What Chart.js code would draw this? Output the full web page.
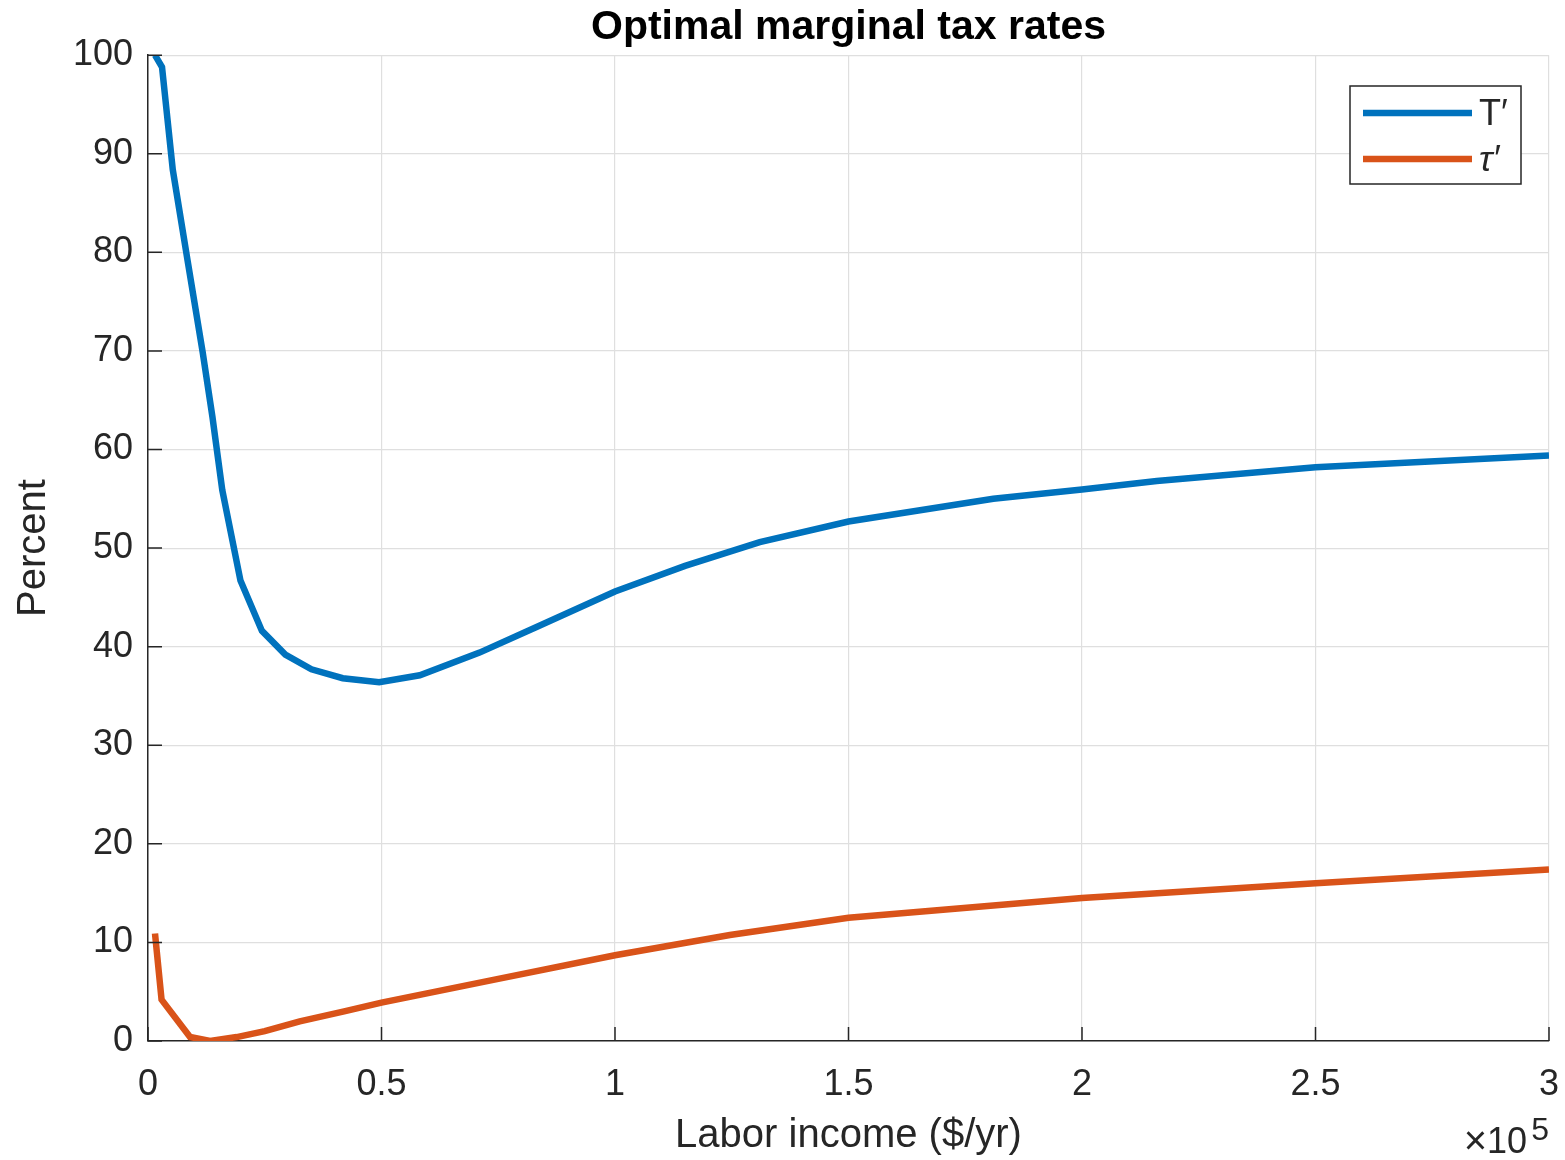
<!DOCTYPE html>
<html>
<head>
<meta charset="utf-8">
<script src="https://cdn.jsdelivr.net/npm/chart.js@4/dist/chart.umd.min.js"></script>
<style>
  html, body { margin:0; padding:0; background:#fff; overflow:hidden; }
  #wrap { width:1565px; height:1160px; position:relative; }
  canvas { display:block; }
</style>
</head>
<body>
<div id="wrap"><canvas id="chart"></canvas></div>
<script>
// ---------- DATA ----------
const incomeT = [1500, 3000, 5300, 8500, 11700, 13800, 15900, 19800, 24400, 29400, 35000, 41700, 49500,
                 58200, 71000, 83200, 100000, 115000, 131000, 150000, 181000, 200000, 216000, 250000, 300000];
const rateT   = [100, 98.8, 88.4, 79.1, 69.9, 63.3, 55.9, 46.7, 41.6, 39.2, 37.7, 36.8, 36.4,
                 37.1, 39.4, 42.0, 45.6, 48.2, 50.6, 52.7, 55.0, 55.95, 56.8, 58.2, 59.4];

const incomeTau = [1500, 2900, 9000, 13300, 19000, 25000, 32500, 42000, 50000, 75000, 100000, 124600, 150000, 200000, 250000, 300000];
const rateTau   = [10.9, 4.2, 0.4, 0.0, 0.4, 1.0, 2.0, 3.0, 3.9, 6.3, 8.7, 10.75, 12.5, 14.5, 16.0, 17.4];

const xTicks = [0, 50000, 100000, 150000, 200000, 250000, 300000];
const yTicks = [0, 10, 20, 30, 40, 50, 60, 70, 80, 90, 100];

const seriesNames = ["T\u2032", "\u03c4\u2032"];
const seriesColors = ["#0072BD", "#D95319"];

// ---------- HELPERS ----------
function pairs(xs, ys){
    return xs.map((x,i)=>({x:x, y:ys[i]}));
}

const FONT = "'Liberation Sans', Arial, Helvetica, sans-serif";
const AXIS = "#262626";

// ---------- EXTRAS (inward ticks, legend, x10^5) ----------
const extras = {
    id:"extras",
    afterDraw(chart){
        const ctx = chart.ctx;
        const xs = chart.scales.x, ys = chart.scales.y;
        const a = chart.chartArea;
        ctx.save();

        // inward ticks
        ctx.strokeStyle = AXIS;
        ctx.lineWidth = 1.5;
        ctx.beginPath();
        xTicks.forEach(v=>{
            const px = xs.getPixelForValue(v);
            ctx.moveTo(px, a.bottom);
            ctx.lineTo(px, a.bottom-14);
        });
        yTicks.forEach(v=>{
            const py = ys.getPixelForValue(v);
            ctx.moveTo(a.left, py);
            ctx.lineTo(a.left+14, py);
        });
        ctx.stroke();

        // x10^5 multiplier
        ctx.fillStyle = AXIS;
        ctx.textBaseline = "alphabetic";
        ctx.textAlign = "right";
        ctx.font = "32px " + FONT;
        ctx.fillText("5", a.right, 1140);
        ctx.font = "36px " + FONT;
        ctx.fillText("10", a.right-22, 1153);
        ctx.font = "40px " + FONT;
        ctx.fillText("\u00d7", a.right-62, 1154);

        // legend
        const lx = 1350, ly = 86, lw = 171, lh = 98;
        ctx.fillStyle = "#fff";
        ctx.fillRect(lx, ly, lw, lh);
        ctx.strokeStyle = AXIS;
        ctx.lineWidth = 1.5;
        ctx.strokeRect(lx, ly, lw, lh);
        const rows = [113, 159];
        rows.forEach((ry,i)=>{
            ctx.strokeStyle = seriesColors[i];
            ctx.lineWidth = 6.5;
            ctx.beginPath();
            ctx.moveTo(1363, ry);
            ctx.lineTo(1472, ry);
            ctx.stroke();
            ctx.fillStyle = AXIS;
            ctx.textAlign = "left";
            ctx.textBaseline = "middle";
            ctx.font = (i===1 ? "italic " : "") + "36px " + FONT;
            ctx.fillText(seriesNames[i], 1479, ry+2);
        });

        ctx.restore();
    }
};

// ---------- CHART ----------
new Chart(document.getElementById("chart"), {
    type:"line",
    data:{
        datasets:[
            {
                label:seriesNames[0],
                data:pairs(incomeT, rateT),
                borderColor:seriesColors[0],
                borderWidth:6.5,
                pointRadius:0,
                tension:0,
                fill:false
            },
            {
                label:seriesNames[1],
                data:pairs(incomeTau, rateTau),
                borderColor:seriesColors[1],
                borderWidth:6.5,
                pointRadius:0,
                tension:0,
                fill:false
            }
        ]
    },
    options:{
        responsive:true,
        maintainAspectRatio:false,
        animation:false,
        layout:{ padding:{ top:0, right:16, left:0, bottom:0 } },
        plugins:{
            legend:{ display:false },
            tooltip:{ enabled:false },
            title:{
                display:true,
                fullSize:false,
                text:"Optimal marginal tax rates",
                color:"#000",
                font:{ family:FONT, size:41, weight:"bold", lineHeight:1.2 },
                padding:{ top:3, bottom:3 }
            }
        },
        scales:{
            x:{
                type:"linear",
                min:0, max:300000,
                afterBuildTicks(s){ s.ticks = xTicks.map(v=>({value:v})); },
                afterFit(s){ s.height = 119; s.paddingRight = 0; s.paddingLeft = 0; },
                grid:{ color:"#dfdfdf", lineWidth:1.2, drawTicks:false },
                border:{ color:AXIS, width:1.5 },
                ticks:{
                    color:AXIS,
                    padding:22,
                    maxRotation:0,
                    font:{ family:FONT, size:36 },
                    callback:v=>String(v/100000)
                },
                title:{
                    display:true,
                    text:"Labor income ($/yr)",
                    color:AXIS,
                    font:{ family:FONT, size:40 },
                    padding:{ top:0, bottom:0 }
                }
            },
            y:{
                min:0, max:100,
                afterBuildTicks(s){ s.ticks = yTicks.map(v=>({value:v})); },
                afterFit(s){ s.width = 148; },
                grid:{ color:"#dfdfdf", lineWidth:1.2, drawTicks:false },
                border:{ color:AXIS, width:1.5 },
                ticks:{
                    color:AXIS,
                    padding:15,
                    font:{ family:FONT, size:36 }
                },
                title:{
                    display:true,
                    text:"Percent",
                    color:AXIS,
                    font:{ family:FONT, size:40 },
                    padding:{ top:10, bottom:0 }
                }
            }
        }
    },
    plugins:[extras]
});
</script>
</body>
</html>
